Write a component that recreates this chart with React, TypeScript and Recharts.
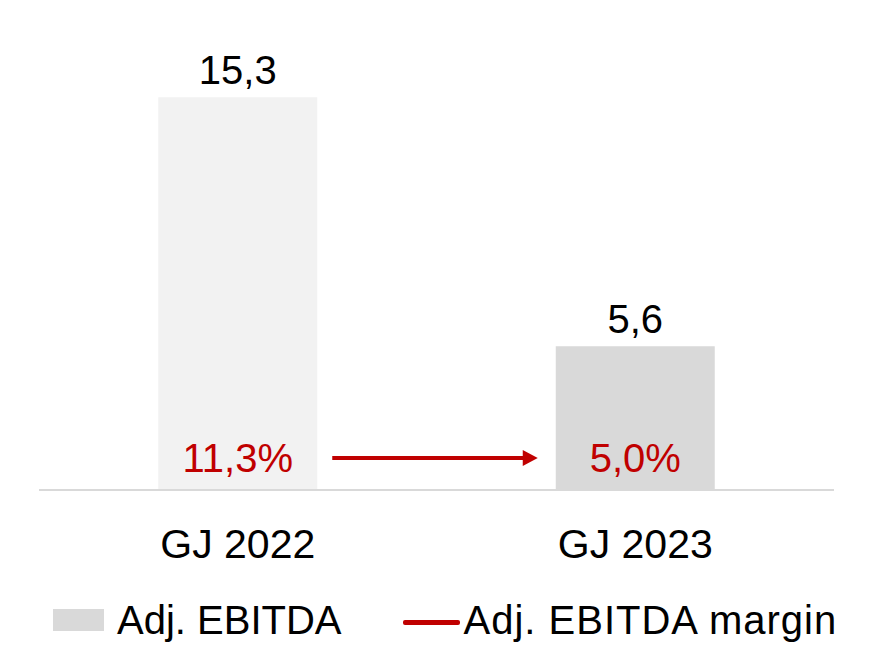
import React from "react";
import { BarChart, Bar, XAxis, YAxis, Cell, LabelList, Legend, ReferenceLine } from "recharts";

const years = ["GJ 2022", "GJ 2023"];
const ebitda = [15.3, 5.6];
const ebitdaMargin = [11.3, 5.0];
const barColors = ["#F2F2F2", "#D9D9D9"];
const seriesNames = ["Adj. EBITDA", "Adj. EBITDA margin"];

const RED = "#C00000";
const FONT = '"Liberation Sans", Arial, sans-serif';

const data = years.map((year, i) => ({ year, ebitda: ebitda[i], margin: ebitdaMargin[i] }));

const fmt = (v: number) => v.toFixed(1).replace(".", ",");

function ValueLabel(props: any) {
  const { x, y, width, value } = props;
  return (
    <text x={x + width / 2} y={y - 13} textAnchor="middle" fontSize={40} fontFamily={FONT} fill="#000">
      {fmt(value)}
    </text>
  );
}

function MarginLabel(props: any) {
  const { x, y, width, height, value } = props;
  return (
    <text x={x + width / 2} y={y + height - 18} textAnchor="middle" fontSize={40} fontFamily={FONT} fill={RED}>
      {fmt(value)}%
    </text>
  );
}

function YearTick(props: any) {
  const { x, y, payload } = props;
  return (
    <text x={x} y={y + 60} textAnchor="middle" fontSize={41} fontFamily={FONT} fill="#000">
      {payload.value}
    </text>
  );
}

// arrow between the two bars, from the band centres the reference line gives
function MarginArrow(props: any) {
  const { x1, y1, x2 } = props;
  const d = x2 - x1;
  const start = x1 + 0.2 * d + 15;
  const tip = x2 - 0.2 * d - 18;
  const y = y1 - 32;
  return (
    <g>
      <line x1={start} y1={y} x2={tip - 12} y2={y} stroke={RED} strokeWidth={4} />
      <polygon points={`${tip - 15},${y - 8} ${tip},${y} ${tip - 15},${y + 8}`} fill={RED} />
    </g>
  );
}

function LegendContent() {
  return (
    <div
      style={{
        display: "flex",
        alignItems: "center",
        boxSizing: "border-box",
        height: 75,
        paddingTop: 24,
        paddingLeft: 53,
        fontFamily: FONT,
        fontSize: 40,
        lineHeight: 1,
        color: "#000",
      }}
    >
      <span style={{ display: "inline-block", width: 51, height: 22, background: barColors[1], marginRight: 13 }} />
      <span>{seriesNames[0]}</span>
      <span
        style={{
          display: "inline-block",
          width: 57,
          height: 5,
          background: RED,
          marginLeft: 61,
          marginRight: 4,
          borderRadius: 2,
          position: "relative",
          top: 3,
        }}
      />
      <span style={{ letterSpacing: 1 }}>{seriesNames[1]}</span>
    </div>
  );
}

export default function App() {
  return (
    <div style={{ position: "absolute", left: 0, top: 0, width: 877, height: 645, background: "#fff" }}>
      <BarChart width={877} height={645} data={data} margin={{ top: 28, right: 43, bottom: 0, left: 39 }} barCategoryGap="30%">
        <XAxis
          dataKey="year"
          axisLine={{ stroke: "#D9D9D9", strokeWidth: 2 }}
          tickLine={false}
          height={80}
          tick={<YearTick />}
          interval={0}
        />
        <YAxis hide domain={[0, 18]} />
        <Bar dataKey="ebitda" name={seriesNames[0]} isAnimationActive={false}>
          {data.map((d, i) => (
            <Cell key={d.year} fill={barColors[i]} />
          ))}
          <LabelList dataKey="ebitda" content={<ValueLabel />} />
          <LabelList dataKey="margin" content={<MarginLabel />} />
        </Bar>
        <ReferenceLine
          segment={[
            { x: years[0], y: 0 },
            { x: years[1], y: 0 },
          ]}
          shape={(p: any) => <MarginArrow {...p} />}
          ifOverflow="visible"
        />
        <Legend
          verticalAlign="bottom"
          height={75}
          content={() => <LegendContent />}
          wrapperStyle={{ left: 0, width: 877 }}
        />
      </BarChart>
    </div>
  );
}
